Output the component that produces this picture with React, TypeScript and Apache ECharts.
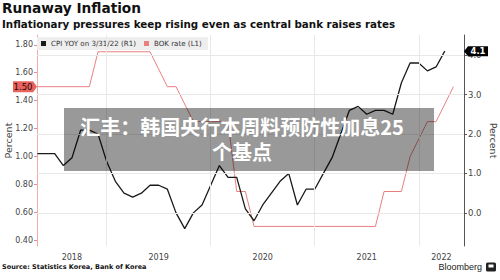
import React, { useEffect, useRef } from "react";
import * as echarts from "echarts";

// Korea CPI, year-on-year %, month-end readings from Apr 2018 to Mar 2022
const cpiFirstMonth = "2018-04";
const cpiYoY = [
  1.5, 1.5, 1.5, 1.2, 1.4, 2.1, 2.1, 2.0, 1.3,
  0.8, 0.5, 0.4, 0.5, 0.7, 0.7, 0.6, 0.0, -0.4, 0.0, 0.2, 0.7,
  1.2, 0.9, 0.9, 0.1, -0.2, 0.2, 0.5, 0.8, 1.0, 0.2, 0.6, 0.6,
  1.0, 1.4, 2.0, 2.6, 2.7, 2.5, 2.6, 2.6, 2.5, 3.3, 3.8, 3.8,
  3.6, 3.7, 4.1,
];

// Bank of Korea base rate, %, at the month ends where the line turns
const bokMonths = [
  "2018-04", "2018-10", "2018-11", "2019-05", "2019-07", "2019-08",
  "2019-10", "2020-02", "2020-03", "2020-04", "2020-05", "2021-07",
  "2021-08", "2021-10", "2021-11", "2022-01", "2022-02", "2022-04",
];
const bokRate = [
  1.5, 1.5, 1.75, 1.75, 1.5, 1.5,
  1.25, 1.25, 0.75, 0.75, 0.5, 0.5,
  0.75, 0.75, 1.0, 1.25, 1.25, 1.5,
];

const leftTicks = [0.4, 0.6, 0.8, 1.0, 1.2, 1.4, 1.6, 1.8];
const rightTicks = [0, 1, 2, 3, 4];
const yearBreaks = [2019, 2020, 2021, 2022];
const yearLabels = [2018, 2019, 2020, 2021, 2022];

const cpiName = "CPI YOY on 3/31/22 (R1)";
const bokName = "BOK rate (L1)";
const bannerLines = ["汇丰：韩国央行本周料预防性加息25", "个基点"];

const X_MIN = 2018.33;
const X_MAX = 2022.435;

// month-end position on a fractional-year scale
const monthPos = (ym: string) => {
  const [y, m] = ym.split("-").map(Number);
  return y + m / 12;
};
const addMonths = (ym: string, n: number) => {
  const [y, m] = ym.split("-").map(Number);
  const idx = y * 12 + (m - 1) + n;
  return `${Math.floor(idx / 12)}-${String((idx % 12) + 1).padStart(2, "0")}`;
};

const FONT = '"DejaVu Sans", sans-serif';
const GRID = { left: 37, right: 36, top: 35, bottom: 34 };

export default function App() {
  const ref = useRef<HTMLDivElement>(null);

  useEffect(() => {
    if (!ref.current) return;
    const chart = echarts.init(ref.current, null, { renderer: "svg" });

    const cpiData = cpiYoY.map((v, i) => [monthPos(addMonths(cpiFirstMonth, i)), v]);
    const bokData = bokMonths.map((m, i) => [monthPos(m), bokRate[i]]);
    const yearCenters = yearLabels.map(
      (y) => (Math.max(y, X_MIN) + Math.min(y + 1, X_MAX)) / 2
    );

    chart.setOption({
      animation: false,
      backgroundColor: "#ffffff",
      textStyle: { fontFamily: FONT },
      grid: { ...GRID, outerBoundsMode: "none", containLabel: false },
      legend: {
        data: [cpiName, bokName],
        left: 37,
        top: 37,
        padding: [3, 6, 3, 4],
        backgroundColor: "#eeeeee",
        icon: "rect",
        itemWidth: 5,
        itemHeight: 5,
        itemGap: 8,
        textStyle: { fontSize: 7.1, color: "#333", fontFamily: FONT },
      },
      xAxis: {
        type: "value",
        min: X_MIN,
        max: X_MAX,
        axisLine: { show: false },
        axisTick: { show: false },
        splitLine: { show: false },
        axisLabel: {
          customValues: yearCenters,
          formatter: (v: number) => String(Math.floor(v)),
          fontSize: 8,
          color: "#444",
          margin: 7,
        },
      },
      yAxis: [
        {
          type: "value",
          position: "left",
          min: 0.36,
          max: 1.87,
          splitLine: { show: false },
          axisLine: { show: true, lineStyle: { color: "#f2aaaa" } },
          axisTick: {
            show: true,
            customValues: leftTicks,
            length: 3,
            lineStyle: { color: "#e98a8a" },
          },
          axisLabel: {
            customValues: leftTicks,
            formatter: (v: number) => v.toFixed(2),
            fontSize: 8,
            color: "#444",
            margin: 4,
          },
          name: "Percent",
          nameLocation: "middle",
          nameRotate: 90,
          nameGap: 24,
          nameMoveOverlap: false,
          nameTextStyle: { fontSize: 9.5, color: "#444" },
        },
        {
          type: "value",
          position: "right",
          min: -0.84,
          max: 4.51,
          splitLine: { show: false },
          axisLine: { show: true, lineStyle: { color: "#555" } },
          axisTick: {
            show: true,
            customValues: rightTicks,
            length: 3,
            lineStyle: { color: "#555" },
          },
          axisLabel: {
            customValues: rightTicks,
            formatter: (v: number) => v.toFixed(1),
            fontSize: 8.5,
            color: "#444",
            margin: 4,
          },
          name: "Percent",
          nameLocation: "middle",
          nameRotate: -90,
          nameGap: 24,
          nameMoveOverlap: false,
          nameTextStyle: { fontSize: 9.5, color: "#444" },
        },
      ],
      series: [
        {
          type: "line",
          yAxisIndex: 1,
          data: [],
          z: 1,
          silent: true,
          markLine: {
            silent: true,
            symbol: "none",
            label: { show: false },
            lineStyle: { color: "#e8e8e8", width: 1, type: "solid" },
            data: [
              ...rightTicks.map((v) => ({ yAxis: v })),
              ...yearBreaks.map((v) => ({ xAxis: v })),
            ],
          },
        },
        {
          name: bokName,
          type: "line",
          yAxisIndex: 0,
          data: bokData,
          showSymbol: false,
          color: "#e88080",
          lineStyle: { width: 1, color: "#e88080" },
          z: 2,
        },
        {
          name: cpiName,
          type: "line",
          yAxisIndex: 1,
          data: cpiData,
          showSymbol: false,
          color: "#1a1a1a",
          lineStyle: { width: 1.3, color: "#1a1a1a" },
          z: 3,
        },
      ],
    });

    // value tags on both axes, placed through the axis scales
    const lastRate = bokRate[bokRate.length - 1];
    const lastCpi = cpiYoY[cpiYoY.length - 1];
    const yL = chart.convertToPixel({ yAxisIndex: 0 }, lastRate) as number;
    const yR = chart.convertToPixel({ yAxisIndex: 1 }, lastCpi) as number;
    const xL = GRID.left;
    const xR = 500 - GRID.right;

    chart.setOption({
      graphic: [
        {
          type: "text",
          x: 2,
          y: 8,
          style: {
            text: "Runaway Inflation",
            font: `bold 13.7px ${FONT}`,
            fill: "#111",
            textVerticalAlign: "middle",
          },
        },
        {
          type: "text",
          x: 2,
          y: 24,
          style: {
            text: "Inflationary pressures keep rising even as central bank raises rates",
            font: `bold 10.3px ${FONT}`,
            fill: "#111",
            textVerticalAlign: "middle",
          },
        },
        {
          type: "polygon",
          z: 20,
          shape: {
            points: [
              [xL - 24, yL - 5.5],
              [xL - 4, yL - 5.5],
              [xL, yL],
              [xL - 4, yL + 5.5],
              [xL - 24, yL + 5.5],
            ],
          },
          style: { fill: "#e8625e" },
        },
        {
          type: "text",
          z: 21,
          x: xL - 14,
          y: yL,
          style: {
            text: lastRate.toFixed(2),
            font: `8.5px ${FONT}`,
            fill: "#2a0505",
            textAlign: "center",
            textVerticalAlign: "middle",
          },
        },
        {
          type: "polygon",
          z: 20,
          shape: {
            points: [
              [xR, yR],
              [xR + 4, yR - 5],
              [xR + 24, yR - 5],
              [xR + 24, yR + 5],
              [xR + 4, yR + 5],
            ],
          },
          style: { fill: "#000" },
        },
        {
          type: "text",
          z: 21,
          x: xR + 14,
          y: yR,
          style: {
            text: lastCpi.toFixed(1),
            font: `bold 8.5px ${FONT}`,
            fill: "#fff",
            textAlign: "center",
            textVerticalAlign: "middle",
          },
        },
        {
          type: "rect",
          z: 30,
          shape: { x: 64, y: 108, width: 370, height: 63 },
          style: { fill: "rgba(0,0,0,0.4)" },
        },
        ...bannerLines.map((line, i) => ({
          type: "text",
          z: 31,
          x: 242,
          y: 126 + i * 25,
          style: {
            text: line,
            font: 'bold 20px "Noto Sans CJK SC", sans-serif',
            fill: "#fff",
            textAlign: "center",
            textVerticalAlign: "middle",
          },
        })),
        {
          type: "text",
          x: 2,
          y: 267,
          style: {
            text: "Source: Statistics Korea, Bank of Korea",
            font: `bold 6.5px ${FONT}`,
            fill: "#111",
            textVerticalAlign: "middle",
          },
        },
        {
          type: "text",
          x: 482,
          y: 267,
          style: {
            text: "Bloomberg",
            font: '9px "Liberation Sans", sans-serif',
            fill: "#222",
            textAlign: "right",
            textVerticalAlign: "middle",
          },
        },
        {
          type: "rect",
          shape: { x: 486, y: 262.5, width: 10, height: 9, r: 1.5 },
          style: { fill: "#222" },
        },
        {
          type: "rect",
          shape: { x: 488.5, y: 264.5, width: 5, height: 3 },
          style: { fill: "#fff" },
        },
      ],
    });

    return () => chart.dispose();
  }, []);

  return (
    <div
      ref={ref}
      style={{ position: "absolute", left: 0, top: 0, width: 500, height: 280, background: "#fff" }}
    />
  );
}
